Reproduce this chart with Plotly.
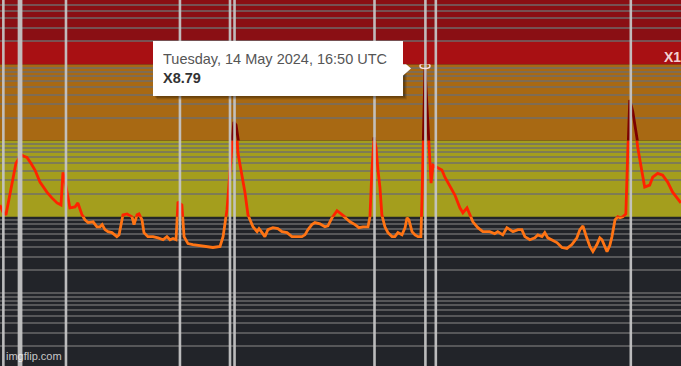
import math
import plotly.graph_objects as go

# ---------------- data (GOES X-ray flux, W/m^2) ----------------
times = [
    "2024-05-13 08:08", "2024-05-13 08:22", "2024-05-13 08:36", "2024-05-13 08:55", "2024-05-13 09:08",
    "2024-05-13 09:22", "2024-05-13 09:36", "2024-05-13 09:45", "2024-05-13 09:59", "2024-05-13 10:13",
    "2024-05-13 10:32", "2024-05-13 10:50", "2024-05-13 11:13", "2024-05-13 11:32", "2024-05-13 11:45",
    "2024-05-13 12:08", "2024-05-13 12:32", "2024-05-13 12:50", "2024-05-13 12:59", "2024-05-13 13:08",
    "2024-05-13 13:22", "2024-05-13 13:31", "2024-05-13 13:55", "2024-05-13 14:08", "2024-05-13 14:27",
    "2024-05-13 14:41", "2024-05-13 14:55", "2024-05-13 15:18", "2024-05-13 15:36", "2024-05-13 15:50",
    "2024-05-13 16:00", "2024-05-13 16:13", "2024-05-13 16:27", "2024-05-13 16:45", "2024-05-13 17:08",
    "2024-05-13 17:18", "2024-05-13 17:36", "2024-05-13 17:55", "2024-05-13 18:18", "2024-05-13 18:27",
    "2024-05-13 18:41", "2024-05-13 18:50", "2024-05-13 19:04", "2024-05-13 19:13", "2024-05-13 19:31",
    "2024-05-13 19:55", "2024-05-13 20:18", "2024-05-13 20:41", "2024-05-13 20:59", "2024-05-13 21:13",
    "2024-05-13 21:27", "2024-05-13 21:41", "2024-05-13 21:50", "2024-05-13 22:08", "2024-05-13 22:18",
    "2024-05-13 22:36", "2024-05-13 22:59", "2024-05-13 23:31",
    "2024-05-14 00:04", "2024-05-14 00:31", "2024-05-14 01:04", "2024-05-14 01:18", "2024-05-14 01:36",
    "2024-05-14 01:45", "2024-05-14 01:59", "2024-05-14 02:08", "2024-05-14 02:18", "2024-05-14 02:27",
    "2024-05-14 02:45", "2024-05-14 02:59", "2024-05-14 03:13", "2024-05-14 03:22", "2024-05-14 03:36",
    "2024-05-14 03:55", "2024-05-14 04:04", "2024-05-14 04:18", "2024-05-14 04:31", "2024-05-14 04:45",
    "2024-05-14 05:08", "2024-05-14 05:31", "2024-05-14 05:50", "2024-05-14 06:13", "2024-05-14 06:36",
    "2024-05-14 06:59", "2024-05-14 07:22", "2024-05-14 07:36", "2024-05-14 07:50", "2024-05-14 08:08",
    "2024-05-14 08:22", "2024-05-14 08:45", "2024-05-14 09:08", "2024-05-14 09:22", "2024-05-14 09:41",
    "2024-05-14 10:04", "2024-05-14 10:22", "2024-05-14 10:41", "2024-05-14 11:04", "2024-05-14 11:27",
    "2024-05-14 11:45", "2024-05-14 12:04", "2024-05-14 12:27", "2024-05-14 12:36", "2024-05-14 12:45",
    "2024-05-14 12:55", "2024-05-14 13:04", "2024-05-14 13:13", "2024-05-14 13:22", "2024-05-14 13:31",
    "2024-05-14 13:45", "2024-05-14 13:59", "2024-05-14 14:18", "2024-05-14 14:31", "2024-05-14 14:45",
    "2024-05-14 15:04", "2024-05-14 15:18", "2024-05-14 15:27", "2024-05-14 15:36", "2024-05-14 15:50",
    "2024-05-14 16:04", "2024-05-14 16:18", "2024-05-14 16:31", "2024-05-14 16:36", "2024-05-14 16:45",
    "2024-05-14 16:50", "2024-05-14 16:59", "2024-05-14 17:08", "2024-05-14 17:18", "2024-05-14 17:27",
    "2024-05-14 17:50", "2024-05-14 18:08", "2024-05-14 18:22", "2024-05-14 18:45", "2024-05-14 19:08",
    "2024-05-14 19:31", "2024-05-14 19:45", "2024-05-14 20:04", "2024-05-14 20:18", "2024-05-14 20:31",
    "2024-05-14 20:54", "2024-05-14 21:17", "2024-05-14 21:49", "2024-05-14 22:12", "2024-05-14 22:26",
    "2024-05-14 22:49", "2024-05-14 23:08", "2024-05-14 23:22", "2024-05-14 23:36", "2024-05-14 23:59",
    "2024-05-15 00:17", "2024-05-15 00:31", "2024-05-15 00:54", "2024-05-15 01:17", "2024-05-15 01:31",
    "2024-05-15 01:50", "2024-05-15 02:03", "2024-05-15 02:17", "2024-05-15 02:36", "2024-05-15 02:59",
    "2024-05-15 03:22", "2024-05-15 03:45", "2024-05-15 04:08", "2024-05-15 04:31", "2024-05-15 04:45",
    "2024-05-15 04:59", "2024-05-15 05:13", "2024-05-15 05:31", "2024-05-15 05:45", "2024-05-15 06:03",
    "2024-05-15 06:17", "2024-05-15 06:27", "2024-05-15 06:40", "2024-05-15 06:50", "2024-05-15 07:03",
    "2024-05-15 07:13", "2024-05-15 07:27", "2024-05-15 07:40", "2024-05-15 07:50", "2024-05-15 08:03",
    "2024-05-15 08:17", "2024-05-15 08:26", "2024-05-15 08:35", "2024-05-15 08:49", "2024-05-15 08:58",
    "2024-05-15 09:12", "2024-05-15 09:30", "2024-05-15 09:44", "2024-05-15 10:07", "2024-05-15 10:21",
    "2024-05-15 10:44", "2024-05-15 11:07", "2024-05-15 11:30", "2024-05-15 11:53", "2024-05-15 12:31",
]
flux = [
    1.43e-5, 1.16e-5, 1.06e-5, 1.93e-5, 3.02e-5,
    5.03e-5, 5.8e-5, 6.6e-5, 6.2e-5, 6.0e-5,
    5.0e-5, 4.1e-5, 2.85e-5, 2.38e-5, 2.11e-5,
    1.77e-5, 1.52e-5, 1.43e-5, 3.84e-5, 3.0e-5,
    1.66e-5, 1.31e-5, 1.35e-5, 1.52e-5, 1.06e-5,
    9.1e-6, 8.4e-6, 8.6e-6, 7.4e-6, 7.4e-6,
    7.9e-6, 6.8e-6, 6.4e-6, 6.2e-6, 5.5e-6,
    5.8e-6, 1.06e-5, 1.09e-5, 1.0e-5, 7.9e-6,
    1.06e-5, 1.09e-5, 9.1e-6, 6.2e-6, 5.5e-6,
    5.5e-6, 5.3e-6, 5.0e-6, 5.5e-6, 5.0e-6,
    5.2e-6, 5.0e-6, 1.57e-5, 1.43e-5, 5.5e-6,
    4.46e-6, 4.33e-6, 4.2e-6,
    4.08e-6, 3.96e-6, 4.08e-6, 5.5e-6, 1.23e-5,
    2.6e-5, 1.0e-4, 1.75e-4, 1.6e-4, 6.8e-5,
    3.5e-5, 2.1e-5, 1.06e-5, 9.1e-6, 7.4e-6,
    6.4e-6, 7.0e-6, 6.2e-6, 5.5e-6, 6.8e-6,
    7.2e-6, 7.0e-6, 6.4e-6, 6.2e-6, 5.5e-6,
    5.5e-6, 5.5e-6, 5.8e-6, 6.8e-6, 7.9e-6,
    8.4e-6, 8.1e-6, 7.4e-6, 7.6e-6, 9.7e-6,
    1.2e-5, 1.09e-5, 1.0e-5, 8.6e-6, 7.9e-6,
    7.2e-6, 7.4e-6, 7.4e-6, 1.0e-5, 4.1e-5,
    1.1e-4, 8.1e-5, 4.1e-5, 2.45e-5, 1.06e-5,
    7.4e-6, 6.2e-6, 5.5e-6, 5.5e-6, 6.2e-6,
    5.8e-6, 7.2e-6, 9.7e-6, 9.1e-6, 6.4e-6,
    5.8e-6, 5.5e-6, 5.5e-6, 1.66e-5, 1.8e-4,
    8.79e-4, 2.85e-4, 7.4e-5, 2.76e-5, 4.73e-5,
    4.33e-5, 4.1e-5, 3.3e-5, 2.5e-5, 1.93e-5,
    1.31e-5, 1.13e-5, 1.31e-5, 1.06e-5, 8.6e-6,
    7.2e-6, 6.4e-6, 6.4e-6, 6.0e-6, 6.4e-6,
    5.8e-6, 7.2e-6, 6.8e-6, 6.4e-6, 6.8e-6,
    6.8e-6, 5.5e-6, 5.0e-6, 5.3e-6, 5.8e-6,
    5.5e-6, 6.2e-6, 5.3e-6, 5.0e-6, 4.6e-6,
    3.96e-6, 3.85e-6, 4.33e-6, 5.3e-6, 6.8e-6,
    7.6e-6, 5.7e-6, 4.08e-6, 3.5e-6, 4.3e-6,
    5.3e-6, 5.0e-6, 4.08e-6, 3.5e-6, 4.2e-6,
    5.5e-6, 9.1e-6, 1.0e-5, 9.7e-6, 1.0e-5,
    1.09e-5, 7.4e-5, 3.4e-4, 2.4e-4, 1.66e-4,
    8.1e-5, 4.1e-5, 2.45e-5, 2.6e-5, 3.3e-5,
    3.7e-5, 3.5e-5, 2.85e-5, 2.1e-5, 1.52e-5,
]

# flare event markers (vertical lines)
event_times = [
    "2024-05-13 08:24", "2024-05-13 09:36", "2024-05-13 09:46", "2024-05-13 13:13",
    "2024-05-13 21:59", "2024-05-14 01:50", "2024-05-14 02:11", "2024-05-14 12:57",
    "2024-05-14 16:52", "2024-05-14 17:40", "2024-05-15 08:40",
]

# hovered point
hover_time = "2024-05-14 16:50"
hover_label = "Tuesday, 14 May 2024, 16:50 UTC"

# flare-class band edges (W/m^2)
band_edges = [1e-5, 1e-4, 1e-3]
x10_edge = 2e-3
band_label = "X1"

# ---------------- layout helpers ----------------
x_range = ["2024-05-13 08:08:30", "2024-05-15 12:31:36"]
log_lo, log_hi = -6.9554, -2.1586
span = log_hi - log_lo


def frac(v):
    return (math.log10(v) - log_lo) / span


edges = [10 ** log_lo] + band_edges + [10 ** log_hi]
line_colors = ["#ff7414", "#ff2200", "#7c0000", "#7c0000"]
bg_colors = ["#222429", "#a49e1d", "#a86913", "#8a0f14"]
grid_col = "rgba(110,110,110,0.7)"
FONT = "Liberation Sans, Arial"

fig = go.Figure()
layout_axes = {}
shapes = []
for i in range(4):
    yname = "y" if i == 0 else f"y{i+1}"
    lname = "yaxis" if i == 0 else f"yaxis{i+1}"
    fig.add_trace(go.Scatter(
        x=times, y=flux, mode="lines", xaxis="x", yaxis=yname,
        line=dict(color=line_colors[i], width=2.8), hoverinfo="skip",
        showlegend=False,
    ))
    layout_axes[lname] = dict(
        type="log", range=[math.log10(edges[i]), math.log10(edges[i + 1])],
        domain=[max(0, frac(edges[i])), min(1, frac(edges[i + 1]))],
        anchor="x", showticklabels=False, ticks="", showline=False,
        zeroline=False, showgrid=True, gridcolor=grid_col, gridwidth=1.5,
        dtick="D1", fixedrange=True,
    )
    shapes.append(dict(
        type="rect", xref="x domain", yref=f"{yname} domain", x0=0, x1=1, y0=0, y1=1,
        fillcolor=bg_colors[i], line=dict(width=0), layer="below",
    ))

# bright red X10 band
shapes.append(dict(
    type="rect", xref="x domain", yref="y4", x0=0, x1=1, y0=band_edges[2], y1=x10_edge,
    fillcolor="#a81013", line=dict(width=0), layer="below",
))

for t in event_times:
    shapes.append(dict(
        type="line", xref="x", yref="paper", x0=t, x1=t, y0=0, y1=1,
        line=dict(color="rgba(196,196,196,0.95)", width=2.6), layer="above",
    ))

peak_val = flux[times.index(hover_time)]
# hover marker
shapes.append(dict(
    type="circle", xref="x", yref="y3", xsizemode="pixel", ysizemode="pixel",
    xanchor=hover_time, yanchor=peak_val, x0=-5, x1=5, y0=-5, y1=5,
    line=dict(color="rgba(255,225,225,0.95)", width=1.5), layer="above",
))
# tooltip shadow and pointer
for off, alpha in [(4, 0.10), (3, 0.14), (2, 0.18)]:
    shapes.append(dict(
        type="path", xref="x", yref="y3", xsizemode="pixel", ysizemode="pixel",
        xanchor=hover_time, yanchor=peak_val,
        path=f"M {-272 + off},{-27 - off} L {-22 + off},{-27 - off} L {-22 + off},{28 - off} L {-272 + off},{28 - off} Z",
        fillcolor=f"rgba(0,0,0,{alpha})", line=dict(width=0), layer="above",
    ))
shapes.append(dict(
    type="path", xref="x", yref="y3", xsizemode="pixel", ysizemode="pixel",
    xanchor=hover_time, yanchor=peak_val,
    path="M -23,-8 L -14,0 L -23,8 Z",
    fillcolor="white", line=dict(width=0), layer="above",
))

annotations = [
    dict(
        xref="x", yref="y3", x=hover_time, y=math.log10(peak_val),
        xanchor="right", yanchor="middle", xshift=-22, yshift=0,
        showarrow=False, align="left", width=230, height=35, borderpad=9,
        bgcolor="white", bordercolor="white", borderwidth=1,
        text=f"<span style='color:#555555'>{hover_label}</span><br><b>X{peak_val / 1e-4:.2f}</b>",
        font=dict(family=FONT, size=14.5, color="#333333"),
    ),
    dict(
        xref="paper", yref="y4", x=1, y=math.log10(math.sqrt(band_edges[2] * x10_edge)),
        xanchor="right", yanchor="middle", xshift=2, yshift=-4, showarrow=False,
        text=f"<b>{band_label}</b>", font=dict(family=FONT, size=14,
                                              color="rgba(255,235,235,0.9)"),
    ),
    dict(
        xref="paper", yref="paper", x=0, y=0, xanchor="left", yanchor="bottom",
        xshift=4, yshift=2, showarrow=False, text="imgflip.com",
        font=dict(family=FONT, size=11, color="rgba(255,255,255,0.75)"),
    ),
]

fig.update_layout(
    width=681, height=366, margin=dict(l=0, r=0, t=0, b=0),
    paper_bgcolor="#222429", plot_bgcolor="rgba(0,0,0,0)",
    xaxis=dict(type="date", range=x_range, showgrid=False, showticklabels=False,
               ticks="", showline=False, zeroline=False, fixedrange=True),
    shapes=shapes, annotations=annotations, hovermode=False, showlegend=False,
    **layout_axes,
)

fig.write_html("out.html", config={"displayModeBar": False})
